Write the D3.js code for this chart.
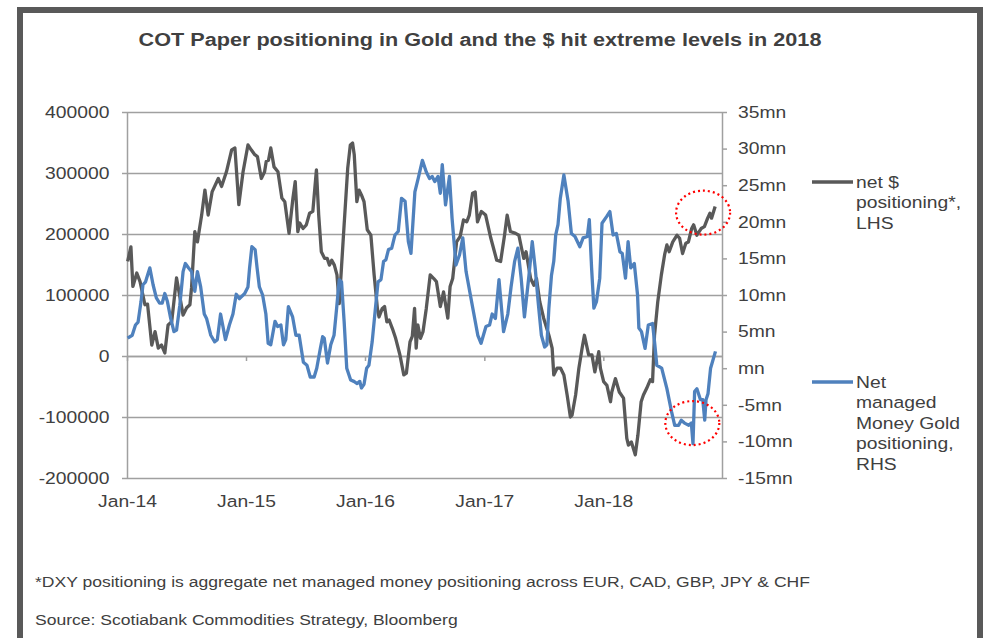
<!DOCTYPE html>
<html>
<head>
<meta charset="utf-8">
<title>COT Paper positioning in Gold and the $</title>
<script src="https://d3js.org/d3.v7.min.js"></script>
<style>
  body { margin: 0; background: #fff; }
  svg text { font-family: "Liberation Sans", Arial, sans-serif; fill: #404040; }
</style>
</head>
<body>
<svg width="984" height="638"></svg>
<script>
// net $ positioning (LHS, contracts)
var usdDates = [
  "2014-01-03","2014-01-13","2014-01-19","2014-01-31","2014-02-10","2014-02-25","2014-03-05","2014-03-18","2014-03-28","2014-04-07",
  "2014-04-17","2014-04-27","2014-05-07","2014-05-18","2014-06-02","2014-06-22","2014-07-03","2014-07-13","2014-07-18","2014-07-28",
  "2014-08-05","2014-08-18","2014-08-28","2014-09-07","2014-09-19","2014-10-08","2014-10-18","2014-11-02","2014-11-18","2014-11-28",
  "2014-12-10","2014-12-23","2015-01-07","2015-01-17","2015-01-28","2015-02-05","2015-02-17","2015-02-27","2015-03-04","2015-03-11",
  "2015-03-18","2015-03-28","2015-04-09","2015-04-21","2015-04-30","2015-05-13","2015-05-25","2015-06-01","2015-06-09","2015-06-15",
  "2015-06-25","2015-07-05","2015-07-15","2015-07-25","2015-08-05","2015-08-12","2015-08-20","2015-08-30","2015-09-07","2015-09-14",
  "2015-09-21","2015-09-29","2015-10-07","2015-10-14","2015-10-27","2015-11-09","2015-11-17","2015-11-24","2015-11-29","2015-12-07",
  "2015-12-14","2015-12-21","2015-12-29","2016-01-08","2016-01-19","2016-01-29","2016-02-08","2016-02-13","2016-02-23","2016-03-01",
  "2016-03-08","2016-03-15","2016-03-25","2016-04-04","2016-04-17","2016-04-29","2016-05-07","2016-05-18","2016-05-25","2016-06-01",
  "2016-06-06","2016-06-11","2016-06-19","2016-06-27","2016-07-07","2016-07-19","2016-07-30","2016-08-07","2016-08-19","2016-08-29",
  "2016-09-11","2016-09-18","2016-09-26","2016-10-08","2016-10-19","2016-10-29","2016-11-08","2016-11-16","2016-11-26","2016-12-04",
  "2016-12-11","2016-12-23","2017-01-05","2017-01-21","2017-01-29","2017-02-08","2017-02-20","2017-03-04","2017-03-12","2017-03-22",
  "2017-04-07","2017-04-17","2017-04-25","2017-05-02","2017-05-09","2017-05-23","2017-06-02","2017-06-10","2017-06-20","2017-07-02",
  "2017-07-18","2017-07-28","2017-08-02","2017-08-12","2017-08-23","2017-09-02","2017-09-12","2017-09-22","2017-09-27","2017-10-08",
  "2017-10-18","2017-10-28","2017-11-04","2017-11-17","2017-11-27","2017-12-06","2017-12-18","2017-12-23","2018-01-02","2018-01-12",
  "2018-01-23","2018-01-27","2018-02-07","2018-02-19","2018-03-04","2018-03-14","2018-03-19","2018-03-28","2018-04-09","2018-04-17",
  "2018-04-27","2018-05-04","2018-05-14","2018-05-25","2018-06-01","2018-06-07","2018-06-17","2018-06-28","2018-07-08","2018-07-15",
  "2018-07-22","2018-08-02","2018-08-15","2018-08-23","2018-09-01","2018-09-11","2018-09-19","2018-09-29","2018-10-05","2018-10-15",
  "2018-10-28","2018-11-07","2018-11-17","2018-11-24","2018-11-29","2018-12-10"
];
var usdValues = [
  155000,179000,114000,136000,122000,84000,85000,18000,40000,13000,
  18000,5000,51000,56000,128000,67000,79000,84000,112000,204000,
  187000,231000,272000,231000,269000,291000,278000,302000,338000,341000,
  248000,302000,346000,338000,330000,327000,291000,302000,319000,321000,
  341000,310000,302000,259000,253000,201000,259000,286000,204000,218000,
  209000,215000,234000,237000,305000,231000,171000,160000,160000,149000,
  157000,149000,133000,86000,198000,308000,346000,349000,330000,253000,
  272000,264000,253000,207000,198000,133000,78000,64000,78000,81000,
  56000,59000,45000,29000,2000,-31000,-28000,23000,32000,78000,
  13000,51000,29000,40000,78000,133000,127000,122000,81000,105000,
  62000,114000,127000,187000,196000,223000,220000,231000,267000,269000,
  220000,237000,231000,193000,177000,157000,155000,198000,231000,204000,
  201000,198000,177000,160000,171000,127000,116000,127000,89000,62000,
  34000,13000,-31000,-20000,-20000,-31000,-64000,-100000,-97000,-64000,
  -20000,13000,34000,2000,2000,-26000,7000,-20000,-42000,-48000,
  -75000,-59000,-37000,-59000,-69000,-135000,-146000,-141000,-162000,-130000,
  -75000,-64000,-53000,-39000,-42000,34000,89000,133000,166000,182000,
  171000,187000,198000,193000,168000,185000,187000,209000,215000,198000,
  209000,212000,226000,234000,226000,245000
];

// Net managed money gold positioning (RHS, mn)
var goldDates = [
  "2014-01-03","2014-01-17","2014-01-27","2014-02-04","2014-02-13","2014-02-19","2014-02-27","2014-03-05","2014-03-12","2014-03-22",
  "2014-04-01","2014-04-11","2014-04-19","2014-04-27","2014-05-05","2014-05-15","2014-05-25","2014-06-02","2014-06-12","2014-06-22",
  "2014-06-29","2014-07-09","2014-07-18","2014-07-28","2014-08-05","2014-08-15","2014-08-26","2014-09-02","2014-09-15","2014-09-27",
  "2014-10-05","2014-10-15","2014-10-30","2014-11-11","2014-11-22","2014-12-02","2014-12-12","2014-12-28","2015-01-07","2015-01-12",
  "2015-01-19","2015-01-29","2015-02-04","2015-02-11","2015-02-21","2015-03-03","2015-03-10","2015-03-18","2015-03-31","2015-04-08",
  "2015-04-18","2015-04-26","2015-05-03","2015-05-11","2015-05-24","2015-06-03","2015-06-13","2015-06-26","2015-07-07","2015-07-17",
  "2015-07-29","2015-08-06","2015-08-17","2015-08-24","2015-08-29","2015-09-08","2015-09-18","2015-09-28","2015-10-06","2015-10-14",
  "2015-10-21","2015-10-29","2015-11-06","2015-11-18","2015-11-28","2015-12-08","2015-12-16","2015-12-21","2015-12-29","2016-01-06",
  "2016-01-13","2016-01-23","2016-02-02","2016-02-10","2016-02-19","2016-02-27","2016-03-05","2016-03-13","2016-03-23","2016-04-02",
  "2016-04-12","2016-04-22","2016-05-03","2016-05-13","2016-05-21","2016-06-02","2016-06-12","2016-06-25","2016-07-07","2016-07-17",
  "2016-07-25","2016-08-02","2016-08-12","2016-08-19","2016-08-25","2016-09-04","2016-09-16","2016-09-24","2016-10-06","2016-10-17",
  "2016-10-27","2016-11-06","2016-11-25","2016-12-12","2016-12-22","2017-01-06","2017-01-17","2017-01-25","2017-02-04","2017-02-15",
  "2017-03-01","2017-03-14","2017-03-24","2017-04-04","2017-04-14","2017-04-24","2017-05-04","2017-05-18","2017-05-28","2017-06-06",
  "2017-06-15","2017-06-25","2017-07-05","2017-07-12","2017-07-18","2017-07-26","2017-08-02","2017-08-08","2017-08-15","2017-08-22",
  "2017-09-02","2017-09-15","2017-09-25","2017-10-06","2017-10-21","2017-10-31","2017-11-13","2017-11-19","2017-11-26","2017-12-03",
  "2017-12-11","2017-12-21","2017-12-28","2018-01-11","2018-01-21","2018-01-31","2018-02-10","2018-02-21","2018-02-28","2018-03-10",
  "2018-03-18","2018-03-26","2018-04-06","2018-04-16","2018-04-20","2018-04-28","2018-05-09","2018-05-19","2018-06-01","2018-06-08",
  "2018-06-14","2018-06-29","2018-07-15","2018-07-29","2018-08-08","2018-08-20","2018-08-28","2018-09-07","2018-09-20","2018-09-28",
  "2018-10-03","2018-10-08","2018-10-15","2018-10-26","2018-11-02","2018-11-08","2018-11-12","2018-11-18","2018-11-26","2018-12-11"
];
var goldValues = [
  4.1,4.5,5.9,6.3,9.1,11.4,11.8,12.7,13.7,11.4,
  9.6,8.9,8.9,10.2,9.1,6.8,5.0,5.2,8.6,13.2,
  14.3,13.7,13.2,10.5,13.2,11.1,7.4,6.8,4.5,3.6,
  3.9,7.4,3.9,5.9,7.4,10.1,9.5,10.2,11.1,13.7,
  16.6,16.2,13.7,11.1,10.0,7.4,3.4,3.2,6.4,5.7,
  5.9,3.2,3.9,8.4,7.0,4.5,4.5,0.8,0.4,-1.2,
  -1.2,0.0,2.7,4.3,4.1,0.7,3.2,4.5,8.2,12.1,
  11.8,6.4,0.0,-1.6,-1.8,-2.1,-1.8,-2.7,-2.2,0.0,
  0.4,3.6,8.2,11.8,12.1,14.6,14.8,16.2,16.4,18.2,
  18.7,23.2,22.8,17.3,15.7,24.1,25.9,28.4,26.8,25.9,
  26.2,25.5,26.2,23.9,27.8,22.3,26.2,20.5,14.1,15.5,
  17.8,13.2,8.6,4.5,3.4,5.7,5.9,7.4,6.8,12.1,
  5.0,7.4,11.1,14.6,16.4,12.3,7.0,12.7,17.3,13.7,
  9.1,4.5,2.9,3.2,8.2,12.7,14.6,18.2,19.6,23.2,
  26.4,22.8,18.4,18.0,16.6,17.8,18.0,20.3,13.7,8.2,
  9.1,12.3,19.8,20.7,21.4,18.2,18.4,15.9,15.7,12.3,
  17.3,13.7,14.3,10.0,5.5,5.0,2.7,5.9,6.1,3.2,
  0.4,0.0,-2.8,-5.9,-7.8,-7.8,-7.1,-7.5,-7.8,-7.5,
  -10.3,-3.2,-2.8,-4.3,-4.3,-7.1,-4.3,-3.5,0.0,2.3
];

var yearTicks = ["2014-01-01", "2015-01-01", "2016-01-01", "2017-01-01", "2018-01-01"];
var leftTicks = [-200000, -100000, 0, 100000, 200000, 300000, 400000];
var rightTicks = [-15, -10, -5, 0, 5, 10, 15, 20, 25, 30, 35];
var legendUsd = ["net $", "positioning*,", "LHS"];
var legendGold = ["Net", "managed", "Money Gold", "positioning,", "RHS"];
// the two dotted circles (centre in data units)
var circled = [
  {date: "2018-11-03", value: 235000, axis: "left"},
  {date: "2018-10-01", value: -7.5, axis: "right"}
];

var titleText = "COT Paper positioning in Gold and the $ hit extreme levels in 2018";
var noteText = "*DXY positioning is aggregate net managed money positioning across EUR, CAD, GBP, JPY & CHF";
var sourceText = "Source: Scotiabank Commodities Strategy, Bloomberg";

var parse = d3.timeParse("%Y-%m-%d");
var stretch = 1.17;   // the original text is a bit wide
var grey = "#595959", blue = "#4f81bd", gridCol = "#a0a0a0";

var svg = d3.select("svg");
var plotLeft = 127, plotRight = 722, plotTop = 112, plotBottom = 478;

// frame
svg.append("rect")
    .attr("x", 20).attr("y", 10)
    .attr("width", 960).attr("height", 700)
    .attr("fill", "#fff")
    .attr("stroke", grey)
    .attr("stroke-width", 6);

var x = d3.scaleTime()
    .domain([parse("2014-01-01"), parse("2018-12-31")])
    .range([plotLeft, plotRight]);
var yL = d3.scaleLinear().domain([-200000, 400000]).range([plotBottom, plotTop]);
var yR = d3.scaleLinear().domain([-15, 35]).range([plotBottom, plotTop]);

// gridlines
svg.append("g")
    .attr("transform", "translate(" + plotLeft + ",0)")
    .call(d3.axisLeft(yL).tickValues(leftTicks).tickSize(-(plotRight - plotLeft)).tickFormat(""))
    .call(function(g) {
      g.select(".domain").remove();
      g.selectAll("line").attr("stroke", gridCol).attr("stroke-width", 1.5);
    });

// left axis
var gL = svg.append("g")
    .attr("transform", "translate(" + plotLeft + ",0)")
    .call(d3.axisLeft(yL).tickValues(leftTicks).tickSize(5).tickSizeOuter(0).tickPadding(10)
          .tickFormat(function(d) { return String(d); }));

// right axis
var gR = svg.append("g")
    .attr("transform", "translate(" + plotRight + ",0)")
    .call(d3.axisRight(yR).tickValues(rightTicks).tickSize(5).tickSizeOuter(0).tickPadding(8.7)
          .tickFormat(function(d) { return (d === 0 ? "" : String(d)) + "mn"; }));

// x axis line sits on the zero line, labels go under the plot
var gX = svg.append("g")
    .attr("transform", "translate(0," + yL(0) + ")")
    .call(d3.axisBottom(x).tickValues(yearTicks.map(parse)).tickSize(5).tickSizeOuter(0).tickFormat(""));

var gXl = svg.append("g")
    .attr("transform", "translate(0," + plotBottom + ")")
    .call(d3.axisBottom(x).tickValues(yearTicks.map(parse)).tickSize(0).tickPadding(16.8)
          .tickFormat(d3.timeFormat("%b-%y")));
gXl.select(".domain").remove();

[gL, gR, gX, gXl].forEach(function(g) {
  g.attr("font-family", null).attr("font-size", null);
  g.selectAll(".domain, line").attr("stroke", gridCol).attr("stroke-width", 1.5);
  g.selectAll("text")
    .attr("fill", "#404040")
    .style("font-size", "16.5px")
    .attr("transform", "scale(" + stretch + ",1)");
});

// series
var usd = usdDates.map(function(d, i) { return {date: parse(d), value: usdValues[i]}; });
var gold = goldDates.map(function(d, i) { return {date: parse(d), value: goldValues[i]}; });

svg.append("path")
    .datum(usd)
    .attr("fill", "none")
    .attr("stroke", grey)
    .attr("stroke-width", 3.3)
    .attr("stroke-linejoin", "round")
    .attr("d", d3.line().x(function(d) { return x(d.date); }).y(function(d) { return yL(d.value); }));

svg.append("path")
    .datum(gold)
    .attr("fill", "none")
    .attr("stroke", blue)
    .attr("stroke-width", 3.3)
    .attr("stroke-linejoin", "round")
    .attr("d", d3.line().x(function(d) { return x(d.date); }).y(function(d) { return yR(d.value); }));

// red dotted circles
svg.append("g").selectAll("ellipse")
    .data(circled)
    .enter().append("ellipse")
      .attr("cx", function(d) { return x(parse(d.date)); })
      .attr("cy", function(d) { return d.axis === "left" ? yL(d.value) : yR(d.value); })
      .attr("rx", 27)
      .attr("ry", 22)
      .attr("fill", "none")
      .attr("stroke", "#ff0000")
      .attr("stroke-width", 2.2)
      .attr("stroke-dasharray", "2,3");

// legend
function legendItem(lines, colour, yy) {
  var g = svg.append("g");
  g.append("line")
    .attr("x1", 812).attr("x2", 853)
    .attr("y1", yy).attr("y2", yy)
    .attr("stroke", colour).attr("stroke-width", 3.3);
  g.selectAll("text")
    .data(lines)
    .enter().append("text")
      .attr("transform", function(d, i) { return "translate(856," + (yy + i * 20.5) + ") scale(" + stretch + ",1)"; })
      .attr("dy", "0.35em")
      .style("font-size", "16.5px")
      .text(function(d) { return d; });
}
legendItem(legendUsd, grey, 182);
legendItem(legendGold, blue, 382);

// title and notes
svg.append("text")
    .attr("transform", "translate(480,46) scale(" + stretch + ",1)")
    .attr("text-anchor", "middle")
    .style("font-size", "18.5px")
    .style("font-weight", "bold")
    .text(titleText);

svg.append("text")
    .attr("transform", "translate(35,587) scale(" + stretch + ",1)")
    .style("font-size", "15px")
    .text(noteText);

svg.append("text")
    .attr("transform", "translate(35,624.5) scale(" + stretch + ",1)")
    .style("font-size", "15px")
    .text(sourceText);
</script>
</body>
</html>
